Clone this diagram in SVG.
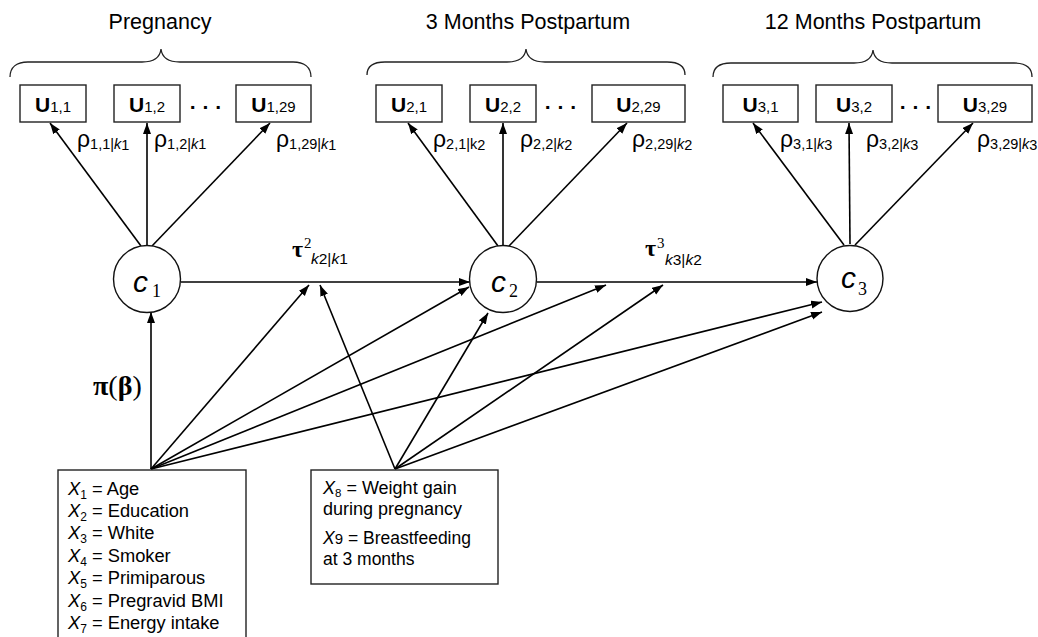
<svg xmlns="http://www.w3.org/2000/svg" width="1038" height="637" viewBox="0 0 1038 637">
<style>
.hd{font-family:"Liberation Sans",Arial,sans-serif;font-size:21.5px;fill:#000}
.brace{fill:none;stroke:#222;stroke-width:1.3}
.box{fill:#fff;stroke:#222;stroke-width:1.4}
.circ{fill:#fff;stroke:#111;stroke-width:1.4}
.ul{font-family:"Liberation Sans",Arial,sans-serif;font-size:21px;font-weight:bold;fill:#000}
.us{font-size:15px;font-weight:normal}
.dots{font-family:"Liberation Sans",Arial,sans-serif;font-size:21px;font-weight:bold}
.rho{font-family:"Liberation Sans",Arial,sans-serif;font-size:23px;fill:#000}
.rs{font-size:14.5px}
.it{font-style:italic}
.tau{font-family:"Liberation Serif","Times New Roman",serif;font-size:24px}
.tb{font-weight:bold}
.sup{font-family:"Liberation Serif","Times New Roman",serif;font-size:15px}
.ts{font-family:"Liberation Sans",Arial,sans-serif;font-size:15.5px}
.cl{font-family:"Liberation Sans",Arial,sans-serif;font-size:30px;font-style:italic}
.cs{font-family:"Liberation Serif","Times New Roman",serif;font-size:18px;font-style:normal}
.pi{font-family:"Liberation Serif","Times New Roman",serif;font-size:28px}
.b1{font-family:"Liberation Sans",Arial,sans-serif;font-size:18.3px}
.b2{font-family:"Liberation Sans",Arial,sans-serif;font-size:18px}
.b3{font-family:"Liberation Sans",Arial,sans-serif;font-size:17.5px}
.sub{font-size:12px}
.conn line{stroke:#000;stroke-width:1.6;marker-end:url(#ah)}
</style>
<defs>
<marker id="ah" markerUnits="userSpaceOnUse" markerWidth="12" markerHeight="9" refX="11" refY="4" orient="auto">
<path d="M0,0 L11,4 L0,8 z" fill="#000"/>
</marker>
</defs>
<rect width="1038" height="637" fill="#fff"/>

<g id="hdr-pregnancy">
<text class="hd" x="160" y="29" text-anchor="middle">Pregnancy</text>
<path class="brace" d="M10,77 C10,67 17,62 28,62 L142,62 C153,62 160,58 161,49 C162,58 169,62 180,62 L293,62 C304,62 311,67 311,77"/>
</g>
<g id="hdr-3m">
<text class="hd" x="528" y="29" text-anchor="middle">3 Months Postpartum</text>
<path class="brace" d="M367,75 C367,66 374,62 385,62 L507,62 C518,62 525,58 526,49 C527,58 534,62 545,62 L667,62 C678,62 685,66 685,75"/>
</g>
<g id="hdr-12m">
<text class="hd" x="873" y="29" text-anchor="middle">12 Months Postpartum</text>
<path class="brace" d="M713,77 C713,67 720,63 731,63 L854,63 C865,63 872,59 873,50 C874,59 881,63 892,63 L1014,63 C1025,63 1032,67 1032,77"/>
</g>

<g id="conn" class="conn">
<line x1="141" y1="246" x2="50" y2="123"/>
<line x1="147" y1="245" x2="147" y2="123"/>
<line x1="152" y1="246" x2="270" y2="123"/>
<line x1="498" y1="246" x2="408" y2="123"/>
<line x1="503" y1="245" x2="503" y2="123"/>
<line x1="509" y1="246" x2="627" y2="123"/>
<line x1="844" y1="245" x2="753" y2="123"/>
<line x1="850" y1="244" x2="849" y2="123"/>
<line x1="855" y1="245" x2="973" y2="123"/>
<line x1="181" y1="282" x2="470" y2="282"/>
<line x1="537" y1="282" x2="817" y2="282"/>
<line x1="151" y1="469" x2="151" y2="312"/>
<line x1="151" y1="469" x2="309" y2="285"/>
<line x1="151" y1="469" x2="469" y2="287"/>
<line x1="151" y1="469" x2="606" y2="285"/>
<line x1="151" y1="469" x2="822" y2="302"/>
<line x1="395" y1="469" x2="320" y2="285"/>
<line x1="395" y1="469" x2="488" y2="313"/>
<line x1="395" y1="469" x2="663" y2="285"/>
<line x1="395" y1="469" x2="822" y2="312"/>
</g>

<g id="u11"><rect class="box" x="20" y="85" width="66" height="37"/><text class="ul" x="53" y="112" text-anchor="middle">U<tspan class="us">1,1</tspan></text></g>
<g id="u12"><rect class="box" x="114" y="85" width="66" height="37"/><text class="ul" x="147" y="112" text-anchor="middle">U<tspan class="us">1,2</tspan></text></g>
<g id="u129"><rect class="box" x="236" y="85" width="75" height="37"/><text class="ul" x="273.5" y="112" text-anchor="middle">U<tspan class="us">1,29</tspan></text></g>
<g id="u21"><rect class="box" x="376" y="85" width="66" height="37"/><text class="ul" x="409" y="112" text-anchor="middle">U<tspan class="us">2,1</tspan></text></g>
<g id="u22"><rect class="box" x="470" y="85" width="66" height="37"/><text class="ul" x="503" y="112" text-anchor="middle">U<tspan class="us">2,2</tspan></text></g>
<g id="u229"><rect class="box" x="592" y="85" width="93" height="37"/><text class="ul" x="638.5" y="112" text-anchor="middle">U<tspan class="us">2,29</tspan></text></g>
<g id="u31"><rect class="box" x="723" y="85" width="75" height="37"/><text class="ul" x="760.5" y="112" text-anchor="middle">U<tspan class="us">3,1</tspan></text></g>
<g id="u32"><rect class="box" x="816" y="85" width="76" height="37"/><text class="ul" x="854" y="112" text-anchor="middle">U<tspan class="us">3,2</tspan></text></g>
<g id="u329"><rect class="box" x="938" y="85" width="94" height="37"/><text class="ul" x="985" y="112" text-anchor="middle">U<tspan class="us">3,29</tspan></text></g>

<g id="dots">
<text class="dots" x="206" y="114" text-anchor="middle">· · ·</text>
<text class="dots" x="561" y="114" text-anchor="middle">· · ·</text>
<text class="dots" x="916" y="114" text-anchor="middle">· · ·</text>
</g>

<g id="rho-labels">
<text class="rho" x="77" y="147">ρ<tspan class="rs" dy="2">1,1|</tspan><tspan class="rs it">k</tspan><tspan class="rs" dy="1">1</tspan></text>
<text class="rho" x="154" y="147">ρ<tspan class="rs" dy="2">1,2|</tspan><tspan class="rs it">k</tspan><tspan class="rs">1</tspan></text>
<text class="rho" x="276" y="147">ρ<tspan class="rs" dy="2">1,29|</tspan><tspan class="rs it">k</tspan><tspan class="rs" dy="1">1</tspan></text>
<text class="rho" x="433" y="147">ρ<tspan class="rs" dy="2">2,1|k</tspan><tspan class="rs" dy="1">2</tspan></text>
<text class="rho" x="520" y="147">ρ<tspan class="rs" dy="2">2,2|</tspan><tspan class="rs it">k</tspan><tspan class="rs" dy="1">2</tspan></text>
<text class="rho" x="632" y="147">ρ<tspan class="rs" dy="2">2,29|</tspan><tspan class="rs it">k</tspan><tspan class="rs" dy="1">2</tspan></text>
<text class="rho" x="780" y="147">ρ<tspan class="rs" dy="2">3,1|</tspan><tspan class="rs it">k</tspan><tspan class="rs" dy="1">3</tspan></text>
<text class="rho" x="866" y="147">ρ<tspan class="rs" dy="2">3,2|</tspan><tspan class="rs it">k</tspan><tspan class="rs" dy="1">3</tspan></text>
<text class="rho" x="977" y="147">ρ<tspan class="rs" dy="2">3,29|</tspan><tspan class="rs it">k</tspan><tspan class="rs" dy="1">3</tspan></text>
</g>

<g id="tau-labels">
<text class="tau" x="292" y="257"><tspan class="tb">τ</tspan><tspan class="sup" x="304" y="248">2</tspan><tspan class="ts" x="311" y="264"><tspan class="it">k</tspan>2|<tspan class="it">k</tspan>1</tspan></text>
<text class="tau" x="645" y="256"><tspan class="tb">τ</tspan><tspan class="sup" x="657" y="248">3</tspan><tspan class="ts" x="665" y="265"><tspan class="it">k</tspan>3|<tspan class="it">k</tspan>2</tspan></text>
</g>

<g id="c1"><circle class="circ" cx="147" cy="279" r="33.5"/><text class="cl" x="133" y="292">c<tspan class="cs" x="152" y="297">1</tspan></text></g>
<g id="c2"><circle class="circ" cx="503" cy="279" r="33.5"/><text class="cl" x="491" y="292">c<tspan class="cs" x="509" y="297">2</tspan></text></g>
<g id="c3"><circle class="circ" cx="850" cy="278.5" r="33"/><text class="cl" x="841" y="288">c<tspan class="cs" x="858" y="295">3</tspan></text></g>

<g id="pi-label"><text class="pi" x="93" y="395"><tspan font-weight="bold">π</tspan>(<tspan font-weight="bold">β</tspan>)</text></g>

<g id="box-x1-7">
<rect class="box" x="58" y="470" width="188" height="180"/>
<text class="b1" x="68" y="495"><tspan class="it">X</tspan><tspan class="sub" dy="4">1</tspan><tspan dy="-4"> = Age</tspan></text>
<text class="b1" x="68" y="517"><tspan class="it">X</tspan><tspan class="sub" dy="4">2</tspan><tspan dy="-4"> = Education</tspan></text>
<text class="b1" x="68" y="539"><tspan class="it">X</tspan><tspan class="sub" dy="4">3</tspan><tspan dy="-4"> = White</tspan></text>
<text class="b1" x="68" y="562"><tspan class="it">X</tspan><tspan class="sub" dy="4">4</tspan><tspan dy="-4"> = Smoker</tspan></text>
<text class="b1" x="68" y="584"><tspan class="it">X</tspan><tspan class="sub" dy="4">5</tspan><tspan dy="-4"> = Primiparous</tspan></text>
<text class="b1" x="68" y="607"><tspan class="it">X</tspan><tspan class="sub" dy="4">6</tspan><tspan dy="-4"> = Pregravid BMI</tspan></text>
<text class="b1" x="68" y="629"><tspan class="it">X</tspan><tspan class="sub" dy="4">7</tspan><tspan dy="-4"> = Energy intake</tspan></text>
</g>

<g id="box-x8-9">
<rect class="box" x="311" y="470" width="187" height="114"/>
<text class="b2" x="323" y="494"><tspan class="it">X</tspan><tspan font-size="11.5px" dy="2.5">8</tspan><tspan dy="-2.5"> = Weight gain</tspan></text>
<text class="b2" x="323" y="515">during pregnancy</text>
<text class="b3" x="323" y="544"><tspan class="it">X</tspan><tspan font-size="15px">9</tspan> = Breastfeeding</text>
<text class="b3" x="323" y="565">at 3 months</text>
</g>
</svg>
